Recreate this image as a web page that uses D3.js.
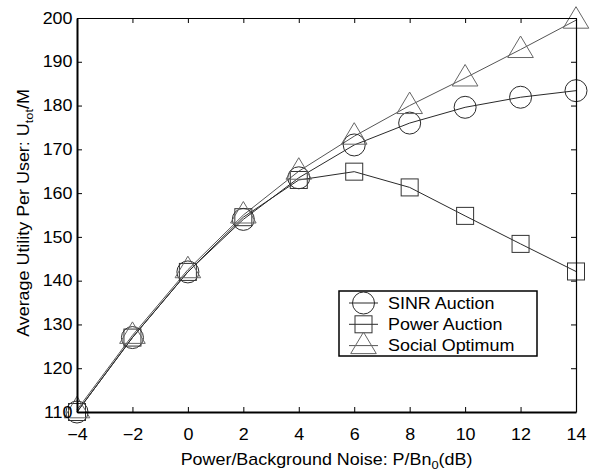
<!DOCTYPE html>
<html><head><meta charset="utf-8">
<script src="https://cdn.jsdelivr.net/npm/d3@7/dist/d3.min.js"></script>
<style>
html,body{margin:0;padding:0;background:#fff;}
text{font-family:"Liberation Sans",Arial,Helvetica,sans-serif;}
</style></head>
<body>
<svg id="chart" width="596" height="472"></svg>
<script>
const xValues = [-4, -2, 0, 2, 4, 6, 8, 10, 12, 14];
const sinrAuction = [110, 127, 142, 154, 163.5, 171, 176, 179.6, 181.9, 183.4];
const powerAuction = [110, 127, 142, 154.5, 163, 164.9, 161.3, 154.8, 148.4, 142.1];
const socialOptimum = [110.5, 127.5, 142.5, 155, 165, 173, 180, 186.3, 192.8, 199.5];
const xTicks = [-4, -2, 0, 2, 4, 6, 8, 10, 12, 14];
const yTicks = [110, 120, 130, 140, 150, 160, 170, 180, 190, 200];
const seriesNames = ["SINR Auction", "Power Auction", "Social Optimum"];

const FONT = 16, SUB = 11.5, SX = 1.12;
const svg = d3.select("#chart");
const L = 77, R = 576, T = 18, B = 412;
const x = d3.scaleLinear().domain([-4, 14]).range([L, R]);
const y = d3.scaleLinear().domain([110, 200]).range([B, T]);

const series = [
  {name: seriesNames[0], values: sinrAuction, marker: "circle", color: "#2a2a2a", lineColor: "#2a2a2a"},
  {name: seriesNames[1], values: powerAuction, marker: "square", color: "#333", lineColor: "#2a2a2a"},
  {name: seriesNames[2], values: socialOptimum, marker: "triangle", color: "#666", lineColor: "#555"}
];

function drawMarker(g, type, cx, cy, color) {
  if (type === "circle") {
    g.append("circle").attr("cx", cx).attr("cy", cy).attr("r", 11)
      .attr("fill", "none").attr("stroke", color).attr("stroke-width", 1);
  } else if (type === "square") {
    g.append("rect").attr("x", cx - 8.5).attr("y", cy - 8.5).attr("width", 17).attr("height", 17)
      .attr("fill", "none").attr("stroke", color).attr("stroke-width", 1);
  } else {
    g.append("path").attr("d", `M${cx},${cy - 13.5} L${cx + 12.8},${cy + 8} L${cx - 12.8},${cy + 8} Z`)
      .attr("fill", "none").attr("stroke", color).attr("stroke-width", 1);
  }
}

// lines
const line = d3.line().x((d, i) => x(xValues[i])).y(d => y(d));
series.forEach(s => {
  svg.append("path").datum(s.values).attr("d", line)
    .attr("fill", "none").attr("stroke", s.lineColor).attr("stroke-width", 1);
});
// markers
series.forEach(s => {
  const g = svg.append("g");
  s.values.forEach((v, i) => drawMarker(g, s.marker, x(xValues[i]), y(v), s.color));
});

// axes (box with inward ticks)
const axB = d3.axisBottom(x).tickValues(xTicks).tickSizeInner(-5).tickSizeOuter(0)
  .tickPadding(16.5).tickFormat(d => d < 0 ? "\u2212" + Math.abs(d) : d);
const axT = d3.axisTop(x).tickValues(xTicks).tickSizeInner(-5).tickSizeOuter(0).tickFormat("");
const axLft = d3.axisLeft(y).tickValues(yTicks).tickSizeInner(-5).tickSizeOuter(0).tickPadding(4);
const axRgt = d3.axisRight(y).tickValues(yTicks).tickSizeInner(-5).tickSizeOuter(0).tickFormat("");

function style(g, w) {
  g.select(".domain").attr("stroke", "#000").attr("stroke-width", w);
  g.selectAll(".tick line").attr("stroke", "#000").attr("stroke-width", 1);
  g.selectAll(".tick text").attr("font-size", FONT).attr("fill", "#000")
    .attr("transform", `scale(${SX},1)`)
    .style("font-family", '"Liberation Sans",Arial,sans-serif');
}
svg.append("g").attr("transform", `translate(0,${T})`).call(axT).call(g => style(g, 1));
svg.append("g").attr("transform", `translate(${R},0)`).call(axRgt).call(g => style(g, 1.2));
svg.append("g").attr("transform", `translate(0,${B})`).call(axB).call(g => style(g, 2));
svg.append("g").attr("transform", `translate(${L},0)`).call(axLft).call(g => style(g, 2));

// axis titles
const xt = svg.append("text").attr("transform", `translate(${(L + R) / 2},464.5) scale(${SX},1)`)
  .attr("text-anchor", "middle").attr("font-size", FONT).attr("fill", "#000");
xt.append("tspan").text("Power/Background Noise: P/Bn");
xt.append("tspan").attr("font-size", SUB).attr("dy", 4).text("0");
xt.append("tspan").attr("dy", -4).text("(dB)");

const yt = svg.append("text").attr("transform", `translate(29,213) rotate(-90) scale(${SX},1)`)
  .attr("text-anchor", "middle").attr("font-size", FONT).attr("fill", "#000");
yt.append("tspan").text("Average Utility Per User: U");
yt.append("tspan").attr("font-size", SUB).attr("dy", 4).text("tot");
yt.append("tspan").attr("dy", -4).text("/M");

// legend
const lg = svg.append("g");
lg.append("rect").attr("x", 339).attr("y", 291).attr("width", 198).attr("height", 65)
  .attr("fill", "#fff").attr("stroke", "#000").attr("stroke-width", 1.5);
series.forEach((s, i) => {
  const cy = 303 + i * 21.3;
  lg.append("line").attr("x1", 349).attr("x2", 378).attr("y1", cy).attr("y2", cy)
    .attr("stroke", s.lineColor).attr("stroke-width", 1);
  drawMarker(lg, s.marker, 363.5, cy, s.color);
  lg.append("text").attr("transform", `translate(388,${cy + 5.7}) scale(${SX},1)`)
    .attr("font-size", FONT).attr("fill", "#000").text(s.name);
});
</script>
</body></html>
